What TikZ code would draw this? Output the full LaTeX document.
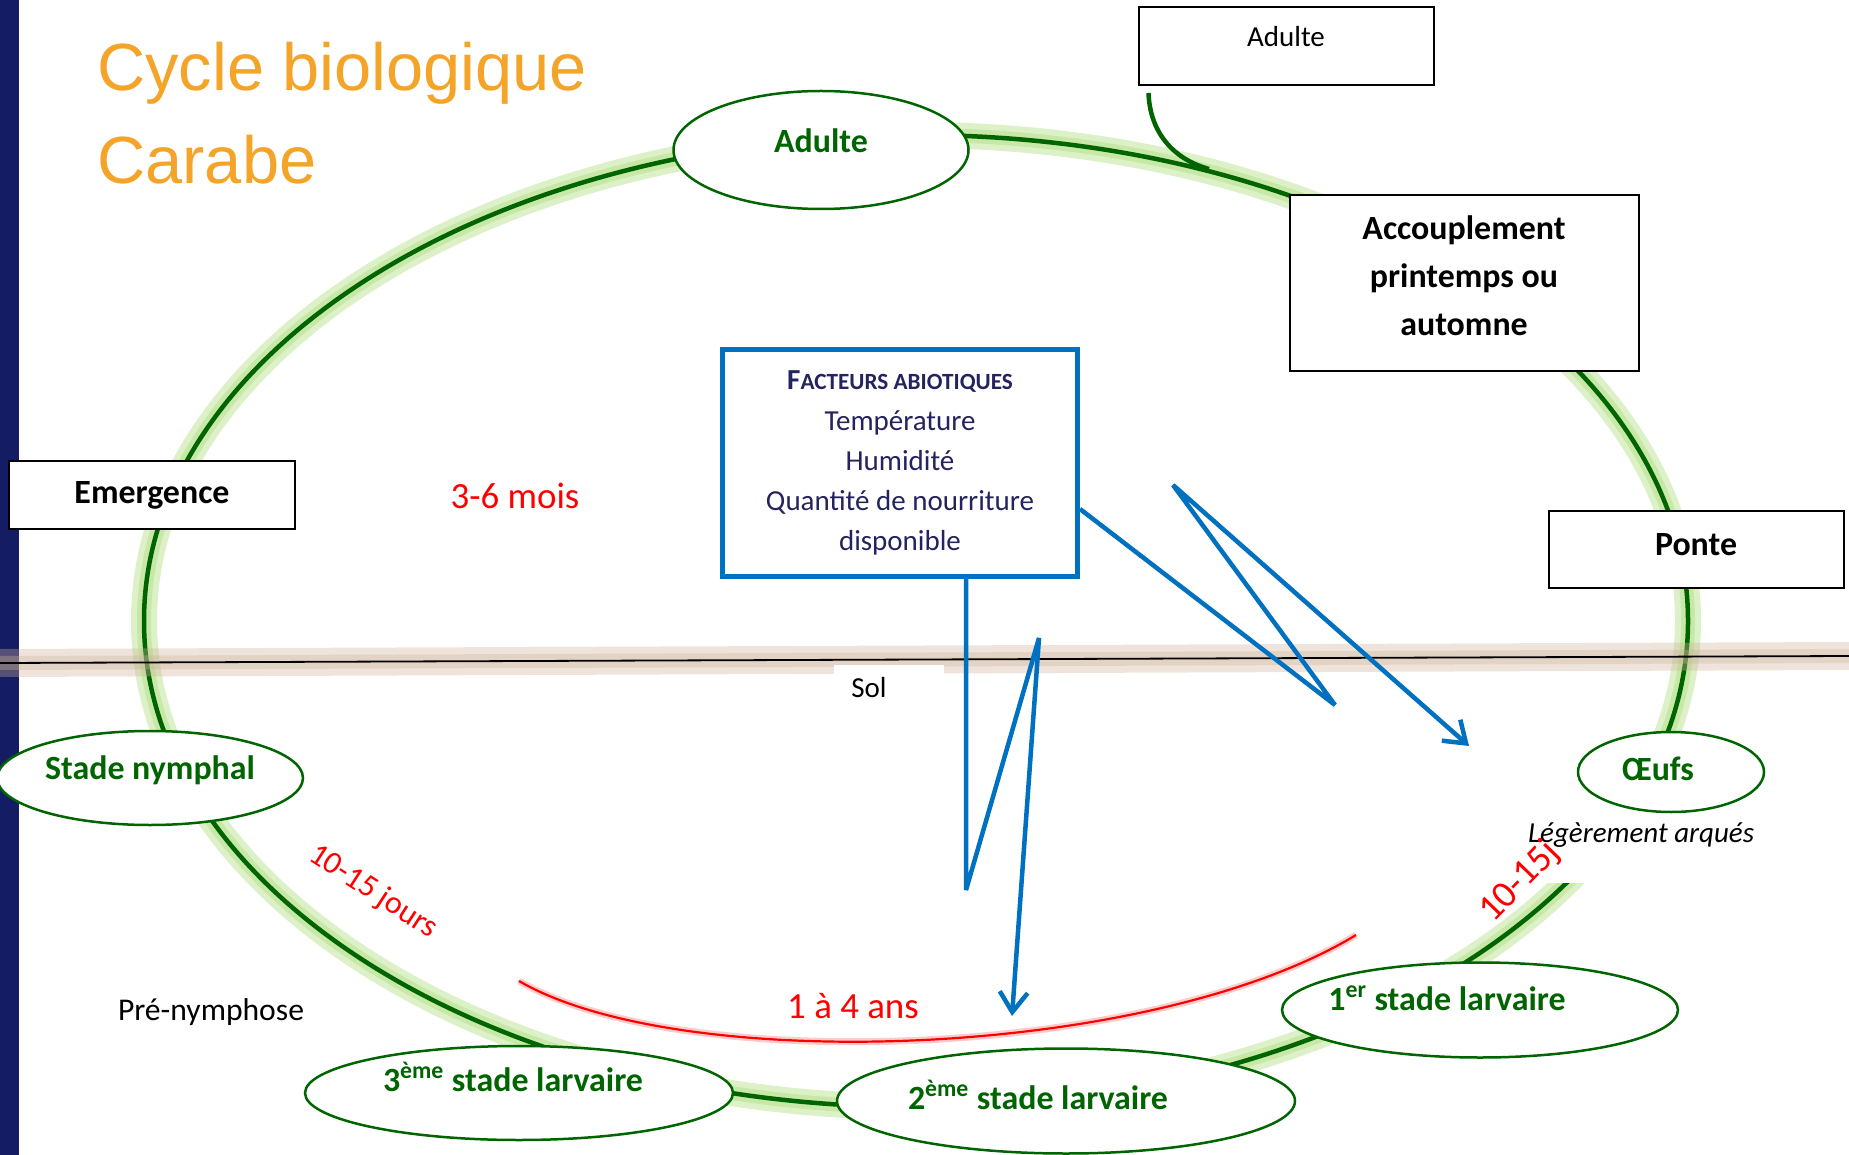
\documentclass[tikz,border=0pt]{standalone}
\usepackage{fontspec}
\setmainfont{Carlito}
\newfontfamily\titlefont{Liberation Sans}
\usetikzlibrary{positioning,arrows.meta,calc,shapes.geometric}
\definecolor{cNavy}{HTML}{141C64}
\definecolor{cTitle}{HTML}{F4A428}
\definecolor{cLoop}{HTML}{006400}
\definecolor{cGlow}{HTML}{A6DA72}
\definecolor{cSoil}{HTML}{CDB298}
\definecolor{cFlux}{HTML}{0070C0}
\definecolor{cInk}{HTML}{24235F}
\definecolor{cTime}{HTML}{FF0000}
\newlength\pxu \setlength\pxu{0.02cm}
\tikzset{
  base/.style     ={inner sep=0pt, align=center},
  plainbox/.style ={base, rectangle, draw=black, fill=white, line width=2\pxu,
                    font=\fontsize{19.3}{27.3}\selectfont\bfseries},
  boxtxt/.style   ={base, font=\fontsize{19.3}{27.3}\selectfont\bfseries},
  stage/.style    ={base, ellipse, draw=cLoop, fill=white, line width=2.5\pxu},
  stagetxt/.style ={inner sep=0pt, text=cLoop, font=\fontsize{19.3}{23}\selectfont\bfseries},
  note/.style     ={base, font=\fontsize{16.5}{20}\selectfont},
  time/.style     ={base, text=cTime, font=\fontsize{21}{25}\selectfont},
  facbox/.style   ={base, rectangle, draw=cFlux, line width=5\pxu, fill=white, text=cInk,
                    font=\fontsize{16.5}{22.8}\selectfont},
  titletxt/.style ={inner sep=0pt, align=left, text=cTitle,
                    font=\titlefont\fontsize{38}{52.9}\selectfont},
  flux/.style     ={draw=cFlux, line width=4.5\pxu, line join=bevel,
                    -{Straight Barb[length=0.4cm, width=0.56cm]}},
  loopline/.style ={draw=cLoop, line width=4.5\pxu},
  loopglow/.style ={draw=cGlow, line width=#1\pxu, opacity=.38},
  soilshade/.style={draw=cSoil, line width=#1\pxu, opacity=.35},
  agearc/.style   ={draw=cTime, line width=2.2\pxu,
                    preaction={draw=cTime!40, line width=7\pxu, opacity=.5}},
}

\begin{document}
\begin{tikzpicture}[x=0.02cm, y=-0.02cm]
\useasboundingbox (0,0) rectangle (1849,1155);
\fill[cNavy] (0,0) rectangle (19,1155);

% life cycle loop
\draw[loopglow=26] (916,621) ellipse [x radius=772, y radius=486];
\draw[loopglow=14] (916,621) ellipse [x radius=772, y radius=486];
\draw[loopline] (916,621) ellipse [x radius=772, y radius=486];

% soil surface
\draw[soilshade=28] (0,663) -- (1849,656);
\draw[soilshade=14] (0,663) -- (1849,656);
\draw[black, line width=1.8\pxu] (0,663) -- (1849,656);

% larval period
\draw[agearc] (519,981) .. controls (680,1075) and (1150,1060) .. (1356,935);

\node[titletxt, anchor=west] (title) at (97,113) {Cycle biologique\\Carabe};

\node[plainbox, minimum width=295\pxu, minimum height=78\pxu,
      label={[note, shift={(0,-9)}]center:Adulte}] (topadult) at (1286,46) {};
\coordinate (mate) at (1209,169);
\draw[loopline] ([shift={(11,7)}]topadult.south west) .. controls (1150,135) and (1176,160) .. (mate);

\node[plainbox, minimum width=349\pxu, minimum height=176\pxu,
      label={[boxtxt, shift={(0,-7)}]center:Accouplement\\printemps ou\\automne}] (accouple) at (1464,283) {};
\node[plainbox, minimum width=295\pxu, minimum height=77\pxu,
      label={[boxtxt, shift={(0,-4)}]center:Ponte}] (ponte) at (1696,549) {};
\node[plainbox, minimum width=286\pxu, minimum height=68\pxu] (emerge) at (152,495) {Emergence};

\node[facbox, minimum width=355\pxu, minimum height=226\pxu] (facteurs) at (900,463)
   {{\bfseries F\fontsize{13.2}{22.8}\selectfont ACTEURS ABIOTIQUES}\\Température\\Humidité\\
    Quantité de nourriture\\disponible};

\node[time] (mois) at (515,496) {3-6 mois};
\node[note, fill=white, anchor=north west, inner xsep=17\pxu, text width=76\pxu, align=left,
      minimum height=44\pxu] (sol) at (834,665) {Sol};

\node[note, font=\fontsize{16.5}{20}\selectfont\itshape, fill=white,
      minimum width=250\pxu, minimum height=96\pxu] (arques) at (1641,835) {Légèrement arqués};

\node[stage, minimum width=295\pxu, minimum height=118\pxu,
      label={[stagetxt, shift={(0,-9)}]center:Adulte}] (adulte) at (821,150) {};
\node[stage, minimum width=306\pxu, minimum height=94\pxu,
      label={[stagetxt, shift={(0,-8)}]center:Stade nymphal}] (nymphe) at (150,778) {};
\node[stage, minimum width=186\pxu, minimum height=80\pxu,
      label={[stagetxt, shift={(-13,-3)}]center:Œufs}] (oeufs) at (1671,772) {};
\node[stage, minimum width=396\pxu, minimum height=95\pxu,
      label={[stagetxt, shift={(-33,-12)}]center:1\textsuperscript{er} stade larvaire}] (larve1) at (1480,1010) {};
\node[stage, minimum width=458\pxu, minimum height=105\pxu,
      label={[stagetxt, shift={(-28,-6)}]center:2\textsuperscript{ème} stade larvaire}] (larve2) at (1066,1101) {};
\node[stage, minimum width=428\pxu, minimum height=94\pxu,
      label={[stagetxt, shift={(-6,-16)}]center:3\textsuperscript{ème} stade larvaire}] (larve3) at (519,1093) {};

\node[time, font=\fontsize{21.6}{25}\selectfont, rotate=46] (oeufdur) at (1520,882) {10-15j};
\node[time, font=\fontsize{18.2}{22}\selectfont, rotate=-33] (nymphdur) at (373,892) {10-15 jours};
\node[note, font=\fontsize{18}{22}\selectfont] (prenym) at (211,1012) {Pré-nymphose};
\node[time] (ans) at (853,1006) {1 à 4 ans};

% influence of the abiotic factors
\coordinate (z1) at (966,890);
\coordinate (z2) at (1039,638);
\coordinate (z3) at (1012,1016);
\draw[flux] (facteurs.south -| z1) -- (z1) -- (z2) -- (z3);
\coordinate (w1) at (1335,705);
\coordinate (w2) at (1173,485);
\coordinate (w3) at (1469,746);
\draw[flux] ($(facteurs.east)+(0,46)$) -- (w1) -- (w2) -- (w3);
\end{tikzpicture}
\end{document}
